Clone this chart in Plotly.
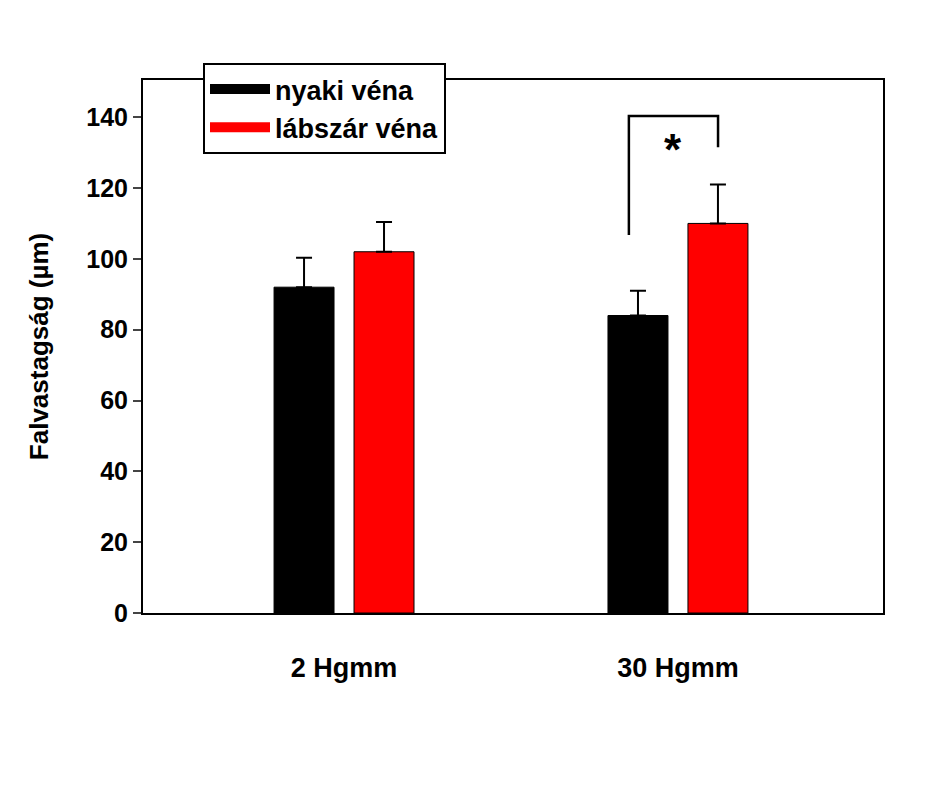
import plotly.graph_objects as go

groups = ["2 Hgmm", "30 Hgmm"]
nyaki = [92, 84]
nyaki_err = [8.3, 7.0]
labszar = [102, 110]
labszar_err = [8.4, 11.0]
xpos = [0, 1]

fnt = dict(family="Liberation Sans, Arial", size=24, color="black")
fig = go.Figure()
fig.add_bar(x=xpos, y=nyaki, showlegend=False, marker=dict(color="black", line=dict(color="black", width=1)),
            error_y=dict(type="data", array=nyaki_err, symmetric=False, arrayminus=[0, 0], color="black", thickness=2, width=8))
fig.add_bar(x=xpos, y=labszar, showlegend=False, marker=dict(color="#ff0000", line=dict(color="black", width=1)),
            error_y=dict(type="data", array=labszar_err, symmetric=False, arrayminus=[0, 0], color="black", thickness=2, width=8))
# legend entries with wide swatches
fig.add_scatter(x=[None], y=[None], mode="lines", line=dict(color="black", width=18), name="<b>nyaki véna</b>")
fig.add_scatter(x=[None], y=[None], mode="lines", line=dict(color="#ff0000", width=18), name="<b>lábszár véna</b>")

# significance bracket
fig.add_shape(type="path", path="M 0.853 106.7 L 0.853 140.3 L 1.12 140.3 L 1.12 131.5",
              line=dict(color="black", width=2.5), xref="x", yref="y")
fig.add_annotation(x=0.985, y=131, text="<b>*</b>", showarrow=False, font=dict(family="Liberation Sans", size=44, color="black"))

fig.update_layout(
    width=927, height=796, paper_bgcolor="white", plot_bgcolor="white",
    margin=dict(l=135, r=52, t=72, b=191),
    barmode="group", bargap=0.521, bargroupgap=0.25,
    font=fnt, showlegend=True,
    legend=dict(x=(203-143)/740, y=1+(80-63)/533, xanchor="left", yanchor="top",
                bordercolor="black", borderwidth=2, bgcolor="white", tracegroupgap=6,
                font=dict(family="Liberation Sans", size=27, color="black"), itemwidth=60),
    xaxis=dict(range=[-0.602, 1.614], tickvals=xpos, ticktext=["<b>%s</b>" % g for g in groups],
               showline=True, linecolor="black", linewidth=2, mirror=True, ticks="", showgrid=False,
               zeroline=False, ticklabelstandoff=30, tickfont=dict(family="Liberation Sans", size=27)),
    yaxis=dict(range=[0, 150.5], tickvals=[0, 20, 40, 60, 80, 100, 120, 140],
               ticktext=["<b>%d</b>" % v for v in [0, 20, 40, 60, 80, 100, 120, 140]],
               showline=True, linecolor="black", linewidth=2, mirror=True, ticks="outside", ticklen=8,
               tickwidth=2, showgrid=False, zeroline=False,
               title=dict(text="<b>Falvastagság (µm)</b>", font=dict(family="Liberation Sans", size=26), standoff=30),
               tickfont=dict(family="Liberation Sans", size=25)),
)
fig.write_html("out.html")
